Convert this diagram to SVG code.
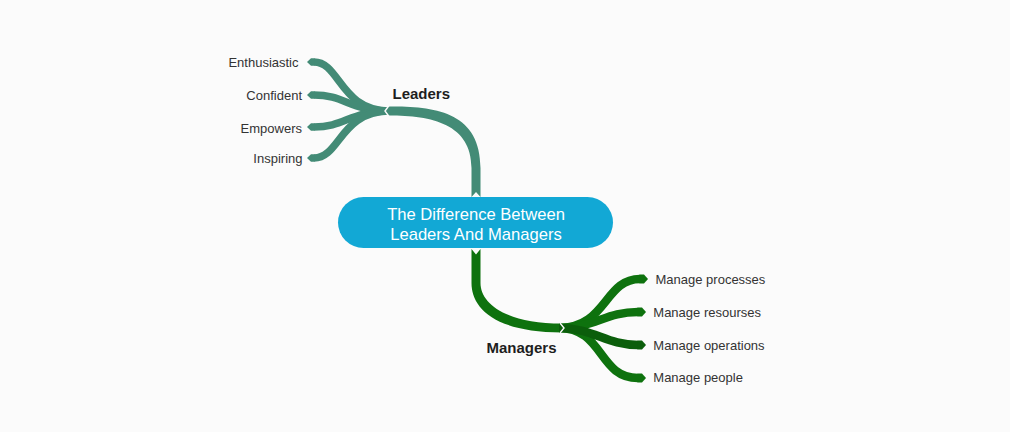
<svg xmlns="http://www.w3.org/2000/svg" width="1010" height="432" viewBox="0 0 1010 432">
<style>
.bg{fill:#fbfbfb}
.ld{fill:#438b76}
.lds{fill:none;stroke:#438b76;stroke-width:7.5}
.mg{fill:#0e720e}
.mgs{fill:none;stroke:#0e720e;stroke-width:8.5}
.mgd{fill:#0b5e0b}
.mgds{fill:none;stroke:#0b5e0b;stroke-width:8.5}
.cut{fill:none;stroke:#fbfbfb;stroke-width:1.4}
.node{fill:#12a8d5}
.ct{font-family:"Liberation Sans",Arial,sans-serif;font-size:16.6px;fill:#ffffff;text-anchor:middle}
.bt{font-family:"Liberation Sans",Arial,sans-serif;font-size:15px;font-weight:bold;fill:#1e1e1e}
.lf{font-family:"Liberation Sans",Arial,sans-serif;font-size:13px;fill:#333333}
</style>
<rect class="bg" x="0" y="0" width="1010" height="432"/>
<g id="connectors">
<path class="ld" d="M 389 106.5 C 435 106, 480.5 112, 480.5 168 L 480.5 197 L 476 192 L 471.5 197 L 471.5 168 C 471.5 124, 432 115.5, 389 115.5 Z"/>
<path class="lds" d="M 390 111 C 340 111, 340 62, 314 62"/>
<path class="lds" d="M 390 111 C 350 111, 345 95, 314 95"/>
<path class="lds" d="M 390 111 C 350 111, 345 127, 314 127"/>
<path class="lds" d="M 390 111 C 340 111, 340 158, 314 158"/>
<path class="ld" d="M 314.5 58.2 L 311 58.2 L 307 62 L 311 65.8 L 314.5 65.8 Z"/>
<path class="ld" d="M 314.5 91.2 L 311 91.2 L 307 95 L 311 98.8 L 314.5 98.8 Z"/>
<path class="ld" d="M 314.5 123.2 L 311 123.2 L 307 127 L 311 130.8 L 314.5 130.8 Z"/>
<path class="ld" d="M 314.5 154.2 L 311 154.2 L 307 158 L 311 161.8 L 314.5 161.8 Z"/>
<polyline class="cut" points="389,105.5 385,111 389,116.5"/>
<path class="mg" d="M 471.5 249 L 476 254.5 L 480.5 249 L 480.5 283 C 480.5 303, 505 323.6, 562 323.6 L 562 332.4 C 490 332.2, 471.5 305, 471.5 283 Z"/>
<path class="mgs" d="M 559 328 C 607 328, 604 279, 640 279"/>
<path class="mgs" d="M 559 328 C 595 328, 605 312, 638 312"/>
<path class="mgs" d="M 559 328 C 604 328, 598 378, 638 378"/>
<path class="mgds" d="M 559 328 C 595 328, 605 345, 638 345"/>
<path class="mg" d="M 639.5 274.6 L 644 274.6 L 648 279 L 644 283.4 L 639.5 283.4 Z"/>
<path class="mg" d="M 637.5 307.6 L 642 307.6 L 646 312 L 642 316.4 L 637.5 316.4 Z"/>
<path class="mgd" d="M 637.5 340.6 L 642 340.6 L 646 345 L 642 349.4 L 637.5 349.4 Z"/>
<path class="mg" d="M 637.5 373.6 L 642 373.6 L 646 378 L 642 382.4 L 637.5 382.4 Z"/>
<polyline class="cut" points="560,323 564,328 560,333"/>
</g>
<g id="central">
<rect class="node" x="338" y="197" width="275" height="51" rx="25.5"/>
<text class="ct" x="476" y="219.5">The Difference Between</text>
<text class="ct" x="476" y="239.5">Leaders And Managers</text>
</g>
<g id="leaders"><text class="bt" x="392.5" y="99">Leaders</text></g>
<g id="managers"><text class="bt" x="486.5" y="352.5">Managers</text></g>
<g id="enthusiastic"><text class="lf" x="298.5" y="67" text-anchor="end">Enthusiastic</text></g>
<g id="confident"><text class="lf" x="302" y="100" text-anchor="end">Confident</text></g>
<g id="empowers"><text class="lf" x="302" y="132.5" text-anchor="end">Empowers</text></g>
<g id="inspiring"><text class="lf" x="302.5" y="163" text-anchor="end">Inspiring</text></g>
<g id="processes"><text class="lf" x="655.5" y="284.3">Manage processes</text></g>
<g id="resourses"><text class="lf" x="653.3" y="317">Manage resourses</text></g>
<g id="operations"><text class="lf" x="653.3" y="350">Manage operations</text></g>
<g id="people"><text class="lf" x="653.3" y="382">Manage people</text></g>
</svg>
